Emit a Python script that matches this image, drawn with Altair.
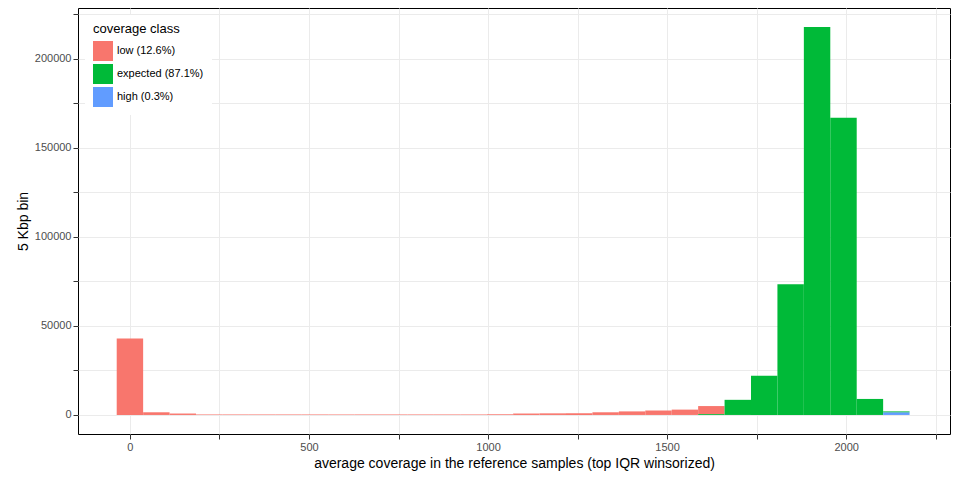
import altair as alt
import pandas as pd

bw = 73.8
low = [43000,1500,800,300,300,300,300,300,300,300,300,300,300,300,400,800,900,1000,1500,2000,2500,3000,4500,0,0,0,0,0,0,0]
expected = [0]*22 + [500,8500,22000,73500,218000,167000,9000,500]
high = [0]*28 + [0,1500]
classes = ["low (12.6%)", "expected (87.1%)", "high (0.3%)"]
colors = ["#F8766D", "#00BA38", "#619CFF"]

rows = []
for i in range(30):
    base = 0
    # ggplot stacks high at bottom, then expected, then low on top
    for c, vals in [(classes[2], high), (classes[1], expected), (classes[0], low)]:
        if vals[i] > 0:
            rows.append({"x0": i*bw - bw/2, "x1": i*bw + bw/2, "y0": base, "y1": base + vals[i], "cls": c})
            base += vals[i]
df = pd.DataFrame(rows)

xvals = list(range(0, 2251, 250))
yvals = list(range(0, 225001, 25000))

chart = alt.Chart(df).mark_rect(strokeWidth=0).encode(
    x=alt.X("x0:Q", scale=alt.Scale(domain=[-145, 2290], nice=False, zero=False),
            axis=alt.Axis(values=xvals, labelExpr="datum.value % 500 == 0 ? datum.label : ''",
                          title="average coverage in the reference samples (top IQR winsorized)",
                          format="d")),
    x2="x1:Q",
    y=alt.Y("y0:Q", scale=alt.Scale(domain=[-10700, 228650], nice=False),
            axis=alt.Axis(values=yvals, labelExpr="datum.value % 50000 == 0 ? datum.label : ''",
                          title="5 Kbp bin", format="d")),
    y2="y1:Q",
    color=alt.Color("cls:N", scale=alt.Scale(domain=classes, range=colors),
                    legend=alt.Legend(title="coverage class", orient="none", legendX=7, legendY=7,
                                      fillColor="white", padding=8, symbolType="square",
                                      symbolSize=400, symbolStrokeWidth=0, symbolOpacity=1,
                                      labelFontSize=11, titleFontSize=13, titleFontWeight="normal",
                                      rowPadding=3)),
).properties(width=872, height=426, padding={"left": 70, "top": 0, "right": 2, "bottom": 38},
             autosize="none").configure_view(stroke="black", strokeWidth=1).configure_axis(
    gridColor="#ebebeb", domain=False, tickColor="#333333", labelColor="#4d4d4d", labelFontSize=11,
    titleFontSize=14, titleFontWeight="normal", titleColor="black", labelFont="Liberation Sans",
    titleFont="Liberation Sans").configure_legend(labelFont="Liberation Sans", titleFont="Liberation Sans")

chart.save("out.html", embed_options={"renderer": "svg", "actions": False})
